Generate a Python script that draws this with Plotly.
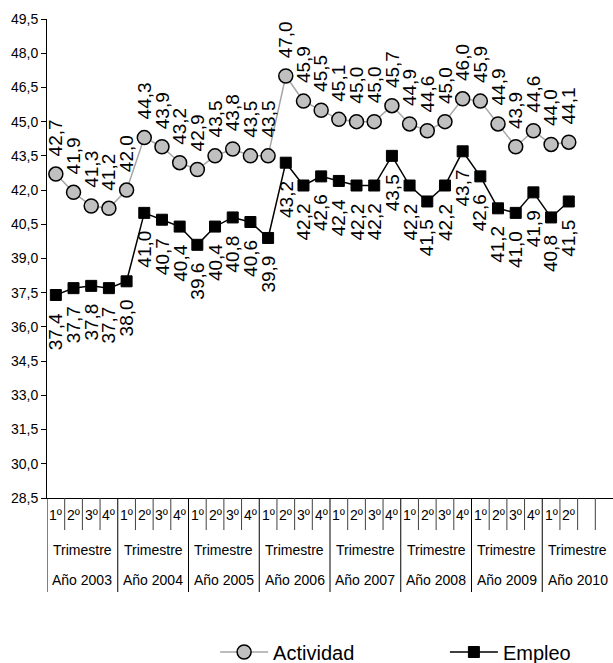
import plotly.graph_objects as go

# ---- data ----
quarter_labels = ["1º", "2º", "3º", "4º"] * 7 + ["1º", "2º", "", ""]
group_labels = ["Trimestre"] * 8
year_labels = ["Año 2003", "Año 2004", "Año 2005", "Año 2006",
               "Año 2007", "Año 2008", "Año 2009", "Año 2010"]
actividad = [42.7, 41.9, 41.3, 41.2, 42.0, 44.3, 43.9, 43.2, 42.9, 43.5,
             43.8, 43.5, 43.5, 47.0, 45.9, 45.5, 45.1, 45.0, 45.0, 45.7,
             44.9, 44.6, 45.0, 46.0, 45.9, 44.9, 43.9, 44.6, 44.0, 44.1]
empleo = [37.4, 37.7, 37.8, 37.7, 38.0, 41.0, 40.7, 40.4, 39.6, 40.4,
          40.8, 40.6, 39.9, 43.2, 42.2, 42.6, 42.4, 42.2, 42.2, 43.5,
          42.2, 41.5, 42.2, 43.7, 42.6, 41.2, 41.0, 41.9, 40.8, 41.5]
y_ticks = [28.5, 30.0, 31.5, 33.0, 34.5, 36.0, 37.5, 39.0, 40.5, 42.0,
           43.5, 45.0, 46.5, 48.0, 49.5]

FONT = "Liberation Sans, Arial, sans-serif"
W, H = 613, 663
ML, MR, MT, MB = 47, 0, 19, 165
PH = H - MT - MB  # plot height px


def fmt(v):
    return f"{v:.1f}".replace(".", ",")


def py(px):
    """pixels below the x axis -> paper y"""
    return -px / PH


xs = list(range(len(actividad)))
n_cat = len(quarter_labels)

fig = go.Figure()
fig.add_trace(go.Scatter(
    x=xs, y=actividad, mode="lines+markers", name="Actividad",
    line=dict(color="#a6a6a6", width=1.5),
    marker=dict(symbol="circle", size=14, color="#c0c0c0",
                line=dict(color="black", width=1.5)),
    cliponaxis=False, legend="legend",
))
fig.add_trace(go.Scatter(
    x=xs, y=empleo, mode="lines+markers", name="Empleo",
    line=dict(color="black", width=1.5),
    marker=dict(symbol="square", size=11, color="black",
                line=dict(color="black", width=1)),
    cliponaxis=False, legend="legend2",
))

annotations = []
for x, v in zip(xs, actividad):
    annotations.append(dict(x=x, y=v, xref="x", yref="y", text=fmt(v),
                            textangle=-90, showarrow=False, yanchor="bottom",
                            xanchor="center", yshift=16,
                            font=dict(family=FONT, size=19, color="black")))
for x, v in zip(xs, empleo):
    annotations.append(dict(x=x, y=v, xref="x", yref="y", text=fmt(v),
                            textangle=-90, showarrow=False, yanchor="top",
                            xanchor="center", yshift=-16,
                            font=dict(family=FONT, size=19, color="black")))

# category table under the axis
for i, q in enumerate(quarter_labels):
    if q:
        annotations.append(dict(x=i, y=py(17), xref="x", yref="paper", text=q,
                                showarrow=False, yanchor="middle",
                                font=dict(family=FONT, size=14, color="black")))
for k, (g, yl) in enumerate(zip(group_labels, year_labels)):
    annotations.append(dict(x=4 * k + 1.5, y=py(52), xref="x", yref="paper",
                            text=g, showarrow=False, yanchor="middle",
                            font=dict(family=FONT, size=14, color="black")))
    annotations.append(dict(x=4 * k + 1.5, y=py(82), xref="x", yref="paper",
                            text=yl, showarrow=False, yanchor="middle",
                            font=dict(family=FONT, size=14, color="black")))

shapes = []
for i in range(n_cat):
    xb = i - 0.5
    if i % 4 == 0:
        shapes.append(dict(type="line", xref="x", yref="paper", x0=xb, x1=xb,
                           y0=0, y1=py(94), line=dict(color="black", width=1)))
    else:
        shapes.append(dict(type="line", xref="x", yref="paper", x0=xb, x1=xb,
                           y0=0, y1=py(32), line=dict(color="#404040", width=1)))

legend_common = dict(orientation="h", xanchor="left", y=-0.3215,
                     yanchor="middle", font=dict(family=FONT, size=20),
                     itemwidth=48, bgcolor="rgba(0,0,0,0)")

fig.update_layout(
    width=W, height=H,
    margin=dict(l=ML, r=MR, t=MT, b=MB, autoexpand=False),
    paper_bgcolor="white", plot_bgcolor="white",
    separators=",.",
    font=dict(family=FONT, color="black"),
    showlegend=True,
    legend=dict(x=0.297, **legend_common),
    legend2=dict(x=0.703, **legend_common),
    xaxis=dict(range=[-0.5, n_cat - 0.5], showgrid=False, zeroline=False,
               showticklabels=False, ticks="", showline=True,
               linecolor="black", linewidth=1),
    yaxis=dict(range=[28.5, 49.5], tickvals=y_ticks, tickformat=".1f",
               showgrid=False, zeroline=False, showline=True,
               linecolor="black", linewidth=1, ticks="outside", ticklen=5,
               tickcolor="black",
               tickfont=dict(family=FONT, size=14, color="black")),
    annotations=annotations,
    shapes=shapes,
)

fig.write_html("out.html", config={"displayModeBar": False},
               post_script="document.body.style.margin='0';"
                           "document.body.style.overflow='hidden';")
